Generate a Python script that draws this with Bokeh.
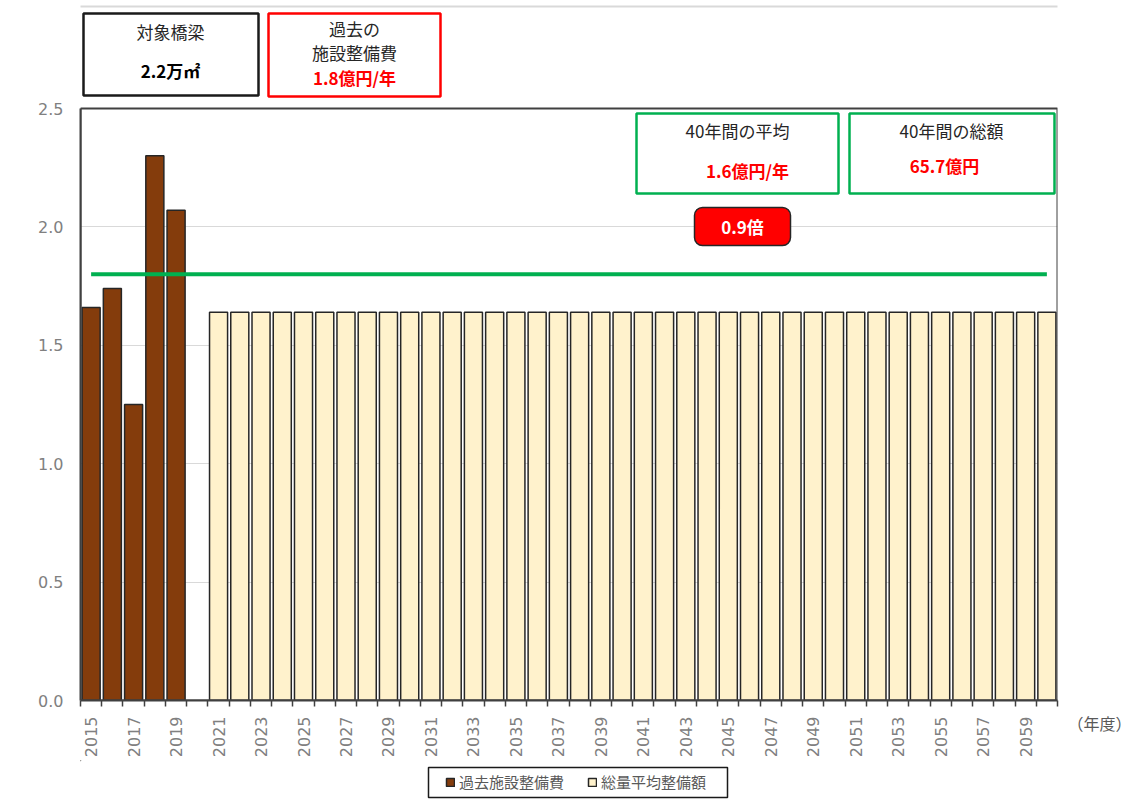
import math
from bokeh.plotting import figure
from bokeh.layouts import column
from bokeh.models import (Range1d, FixedTicker, NumeralTickFormatter, BasicTickFormatter,
                          Label, BoxAnnotation, Legend, LegendItem, LinearAxis)
from bokeh.embed import file_html
from bokeh.resources import INLINE

# ---------------- data ----------------
past_years = [2015, 2016, 2017, 2018, 2019]
past_values = [1.66, 1.74, 1.25, 2.30, 2.07]
future_years = [2021, 2022, 2023, 2024, 2025, 2026, 2027, 2028, 2029, 2030,
                2031, 2032, 2033, 2034, 2035, 2036, 2037, 2038, 2039, 2040,
                2041, 2042, 2043, 2044, 2045, 2046, 2047, 2048, 2049, 2050,
                2051, 2052, 2053, 2054, 2055, 2056, 2057, 2058, 2059, 2060]
future_values = [1.64, 1.64, 1.64, 1.64, 1.64, 1.64, 1.64, 1.64, 1.64, 1.64,
                 1.64, 1.64, 1.64, 1.64, 1.64, 1.64, 1.64, 1.64, 1.64, 1.64,
                 1.64, 1.64, 1.64, 1.64, 1.64, 1.64, 1.64, 1.64, 1.64, 1.64,
                 1.64, 1.64, 1.64, 1.64, 1.64, 1.64, 1.64, 1.64, 1.64, 1.64]
past_average = 1.8
y_ticks = [0.0, 0.5, 1.0, 1.5, 2.0, 2.5]
x_label_years = [2015, 2017, 2019, 2021, 2023, 2025, 2027, 2029, 2031, 2033,
                 2035, 2037, 2039, 2041, 2043, 2045, 2047, 2049, 2051, 2053,
                 2055, 2057, 2059]
legend_labels = ["過去施設整備費", "総量平均整備額"]
unit_label = "（年度）"

JP = "Noto Sans CJK JP"
NUM = "DejaVu Sans"
PAST_COLOR = "#843c0c"
FUTURE_COLOR = "#fff2cc"
EDGE = "#262626"

# ---------------- layout ----------------
W, H = 1142, 803
MAIN_H = 760                           # main figure height; legend strip below
FL, FR, PT, FB = 80, 1057, 108, 700    # plot-area edges in pixels (frame extends up to 0)
X0, X1 = 2014.5, 2060.5
Y0, Y1 = 0.0, 2.5
PX_PER_Y = (FB - PT) / (Y1 - Y0)
YTOP = Y0 + FB / PX_PER_Y              # frame reaches the top of the canvas


def dx(px):
    return X0 + (px - FL) / (FR - FL) * (X1 - X0)


def dy(py):
    return Y0 + (FB - py) / PX_PER_Y


p = figure(width=W, height=MAIN_H, x_range=Range1d(X0, X1), y_range=Range1d(Y0, YTOP),
           output_backend="svg", toolbar_location=None,
           min_border_left=FL, min_border_right=W - FR,
           min_border_top=0, min_border_bottom=MAIN_H - FB)
p.background_fill_color = "white"
p.border_fill_color = "white"
p.outline_line_color = None

p.xgrid.visible = False
p.ygrid.grid_line_color = "#d9d9d9"
p.ygrid.grid_line_width = 1.2

# y axis
p.yaxis.ticker = FixedTicker(ticks=y_ticks)
p.yaxis.bounds = (Y0, Y1)
p.yaxis.formatter = NumeralTickFormatter(format="0.0")
p.yaxis.major_tick_line_color = None
p.yaxis.minor_tick_line_color = None
p.yaxis.axis_line_color = "#404040"
p.yaxis.axis_line_width = 2
p.yaxis.major_label_text_color = "#808080"
p.yaxis.major_label_text_font_size = "16px"
p.yaxis.major_label_text_font = NUM
p.yaxis.major_label_standoff = 11

# x axis
boundaries = [yr - 0.5 for yr in range(past_years[0], future_years[-1] + 2)]
p.xaxis.ticker = FixedTicker(ticks=x_label_years, minor_ticks=boundaries)
p.xaxis.formatter = BasicTickFormatter(use_scientific=False)
p.xaxis.major_tick_line_color = None
p.xaxis.major_tick_out = 0
p.xaxis.major_tick_in = 0
p.xaxis.minor_tick_out = 6
p.xaxis.minor_tick_in = 0
p.xaxis.minor_tick_line_color = "#404040"
p.xaxis.minor_tick_line_width = 1.5
p.xaxis.axis_line_color = "#404040"
p.xaxis.axis_line_width = 2
p.xaxis.major_label_orientation = math.pi / 2
p.xaxis.major_label_text_color = "#808080"
p.xaxis.major_label_text_font_size = "16px"
p.xaxis.major_label_text_font = NUM
p.xaxis.major_label_standoff = 10

# unit label on the right, just under the x-axis level
unit_axis = LinearAxis(ticker=FixedTicker(ticks=[0]),
                       major_label_overrides={0: "\n\n" + unit_label})
unit_axis.axis_line_color = None
unit_axis.major_tick_line_color = None
unit_axis.minor_tick_line_color = None
unit_axis.major_label_standoff = 4
unit_axis.major_label_text_font = JP
unit_axis.major_label_text_font_size = "16px"
unit_axis.major_label_text_color = "#595959"
unit_axis.major_label_text_line_height = 0.95
p.add_layout(unit_axis, "right")

# bars
p.vbar(x=past_years, top=past_values, width=0.85, bottom=0,
       fill_color=PAST_COLOR, line_color=EDGE, line_width=1.5)
p.vbar(x=future_years, top=future_values, width=0.85, bottom=0,
       fill_color=FUTURE_COLOR, line_color=EDGE, line_width=1.5)

# past average line
p.line(x=[past_years[0], future_years[-1]], y=[past_average, past_average],
       line_color="#00b050", line_width=4)

# plot-area border
p.add_layout(BoxAnnotation(left=X0, right=X1, top=Y1, bottom=Y0, fill_alpha=0,
                           line_color="#404040", line_width=2, line_alpha=1))
# light outer border (top edge)
p.add_layout(BoxAnnotation(left=dx(8), right=dx(1170), top=dy(6), bottom=dy(830),
                           fill_alpha=0, line_color="#d9d9d9", line_width=2, line_alpha=1))


def box(l, r, t, b, color, lw=2.5, fill="white", radius=0):
    p.add_layout(BoxAnnotation(left=dx(l), right=dx(r), top=dy(t), bottom=dy(b),
                               fill_color=fill, fill_alpha=1, line_color=color,
                               line_alpha=1, line_width=lw, border_radius=radius))


def label(px, py, text, color="#262626", size="17px", bold=False, font=JP):
    p.add_layout(Label(x=dx(px), y=dy(py), text=text, text_align="center",
                       text_baseline="middle", text_color=color, text_font_size=size,
                       text_font=font, text_font_style="bold" if bold else "normal"))


box(83, 258, 13, 95, "#1a1a1a")
box(268, 440, 13, 96, "#ff0000")
box(636, 838, 113, 193, "#00b050")
box(849, 1054, 113, 193, "#00b050")
box(694, 790, 207, 245, "#262626", lw=1.5, fill="#ff0000", radius=8)

label(170, 31, "対象橋梁")
label(170, 70, "2.2万㎡", color="#000000", bold=True)
label(354, 28, "過去の")
label(354, 52, "施設整備費")
label(354, 77, "1.8億円/年", color="#ff0000", bold=True)
label(737, 130, "40年間の平均")
label(747, 170, "1.6億円/年", color="#ff0000", bold=True)
label(951, 130, "40年間の総額")
label(944, 165, "65.7億円", color="#ff0000", bold=True)
label(742, 226, "0.9倍", color="#ffffff", bold=True)

# ---------------- legend strip ----------------
# Its frame is aligned with the main plot's frame (x from FL to FR). Coordinates here are
# page pixels shifted by OFF, so the legend proxy renderers' data lie far outside the view.
OFF = 10000
LH = H - MAIN_H
lg = figure(width=W, height=LH, x_range=Range1d(FL + OFF, FR + OFF),
            y_range=Range1d(H + OFF, MAIN_H + OFF),
            output_backend="svg", toolbar_location=None,
            x_axis_type=None, y_axis_type=None,
            min_border_left=0, min_border_right=0, min_border_top=0, min_border_bottom=0)
lg.outline_line_color = None
lg.xgrid.visible = False
lg.ygrid.visible = False
lg.background_fill_color = "white"
lg.border_fill_color = "white"

# legend proxies: same styles as the bars
r_past = lg.vbar(x=past_years[:1], top=past_values[:1], width=0.85,
                 fill_color=PAST_COLOR, line_color=EDGE, line_width=1.5)
r_future = lg.vbar(x=future_years[:1], top=future_values[:1], width=0.85,
                   fill_color=FUTURE_COLOR, line_color=EDGE, line_width=1.5)

# white cover over the whole strip frame (hides any sliver of the proxies)
lg.add_layout(BoxAnnotation(fill_color="white", fill_alpha=1, line_color=None))

lg.add_layout(BoxAnnotation(left=428 + OFF, right=727 + OFF, top=767 + OFF, bottom=797 + OFF,
                            fill_alpha=0, line_color="#1a1a1a", line_width=1.5, line_alpha=1))

legend = Legend(items=[LegendItem(label=legend_labels[0], renderers=[r_past]),
                       LegendItem(label=legend_labels[1], renderers=[r_future])],
                orientation="horizontal", location=(445 - FL, 11),
                glyph_width=10, glyph_height=10, label_standoff=4, spacing=23,
                padding=4, margin=0, label_text_font=JP, label_text_font_size="15px",
                label_text_color="#595959", border_line_color=None,
                background_fill_alpha=0)
lg.add_layout(legend)

layout = column(p, lg, spacing=0)
open("out.html", "w").write(file_html(layout, INLINE))
